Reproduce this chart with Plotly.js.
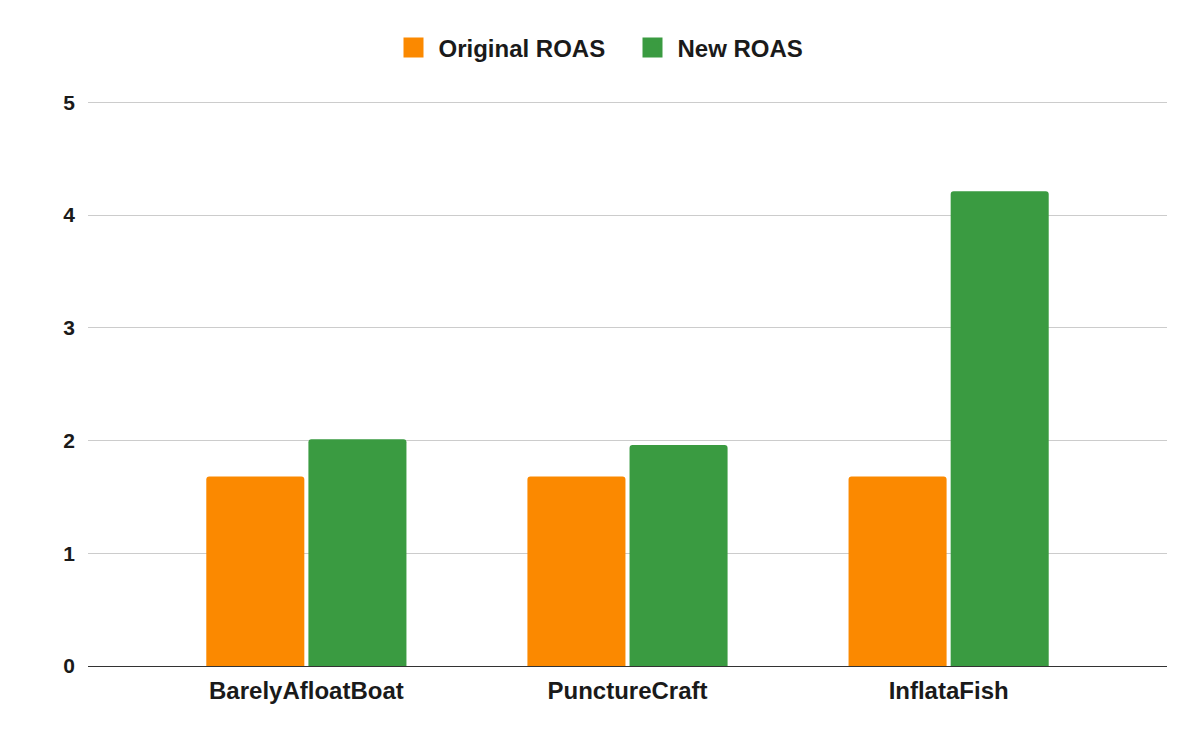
<!DOCTYPE html>
<html>
<head>
<meta charset="utf-8">
<script src="https://cdn.plot.ly/plotly-3.0.1.min.js"></script>
<style>
  html, body { margin: 0; padding: 0; background: #fff; }
  #chart { width: 1200px; height: 742px; }
</style>
</head>
<body>
<div id="chart"></div>
<script>
// ROAS comparison per product
const products = ["BarelyAfloatBoat", "PunctureCraft", "InflataFish"];
const seriesNames = ["Original ROAS", "New ROAS"];
const originalRoas = [1.68, 1.68, 1.68];
const newRoas = [2.01, 1.96, 4.21];
const yTicks = [0, 1, 2, 3, 4, 5];

const ORANGE = "#fb8900";
const GREEN = "#3a9b41";
const FONT = "Liberation Sans, Arial, sans-serif";
const TEXT = "#1a1a1a";

function barTrace(name, values, color) {
    return {
        type: "bar",
        name,
        x: products,
        y: values,
        marker: { color, cornerradius: 3 },
        showlegend: false,
        hoverinfo: "skip",
    };
}

// legend-only entries so the swatches come out as big squares
function legendTrace(name, color) {
    return {
        type: "scatter",
        mode: "markers",
        name,
        x: [null],
        y: [null],
        marker: { symbol: "square", size: 16, color, line: { color, width: 4 } },
        hoverinfo: "skip",
    };
}

const traces = [
    barTrace(seriesNames[0], originalRoas, ORANGE),
    barTrace(seriesNames[1], newRoas, GREEN),
    legendTrace(seriesNames[0], ORANGE),
    legendTrace(seriesNames[1], GREEN),
];

const layout = {
    width: 1200,
    height: 742,
    paper_bgcolor: "#ffffff",
    plot_bgcolor: "#ffffff",
    margin: { t: 100, b: 76, l: 88, r: 33 },
    font: { family: FONT, color: TEXT, size: 24 },
    barmode: "group",
    bargap: 0.364,
    bargroupgap: 0.04,
    showlegend: true,
    legend: {
        orientation: "h",
        x: 0.5,
        xanchor: "center",
        y: 1.092,
        yanchor: "middle",
        font: { family: FONT, size: 24, color: TEXT, weight: "bold" },
        itemwidth: 40,
        entrywidth: 184,
        itemsizing: "trace",
    },
    xaxis: {
        type: "category",
        range: [-0.68, 2.68],
        showgrid: false,
        showline: true,
        linecolor: "#333",
        linewidth: 1,
        ticks: "",
        tickfont: { family: FONT, size: 24, color: TEXT, weight: "bold" },
        ticklabelstandoff: 3,
        fixedrange: true,
    },
    yaxis: {
        // a hair above 5 so the top grid line is still drawn
        range: [0, 5.02],
        tickvals: yTicks,
        ticktext: yTicks.map(String),
        showgrid: true,
        gridcolor: "#cccccc",
        gridwidth: 1,
        zeroline: true,
        zerolinecolor: "#333",
        zerolinewidth: 1,
        ticks: "",
        tickfont: { family: FONT, size: 21, color: TEXT, weight: "bold" },
        ticklabelstandoff: 12,
        fixedrange: true,
    },
};

Plotly.newPlot("chart", traces, layout, { displayModeBar: false, staticPlot: true });
</script>
</body>
</html>
